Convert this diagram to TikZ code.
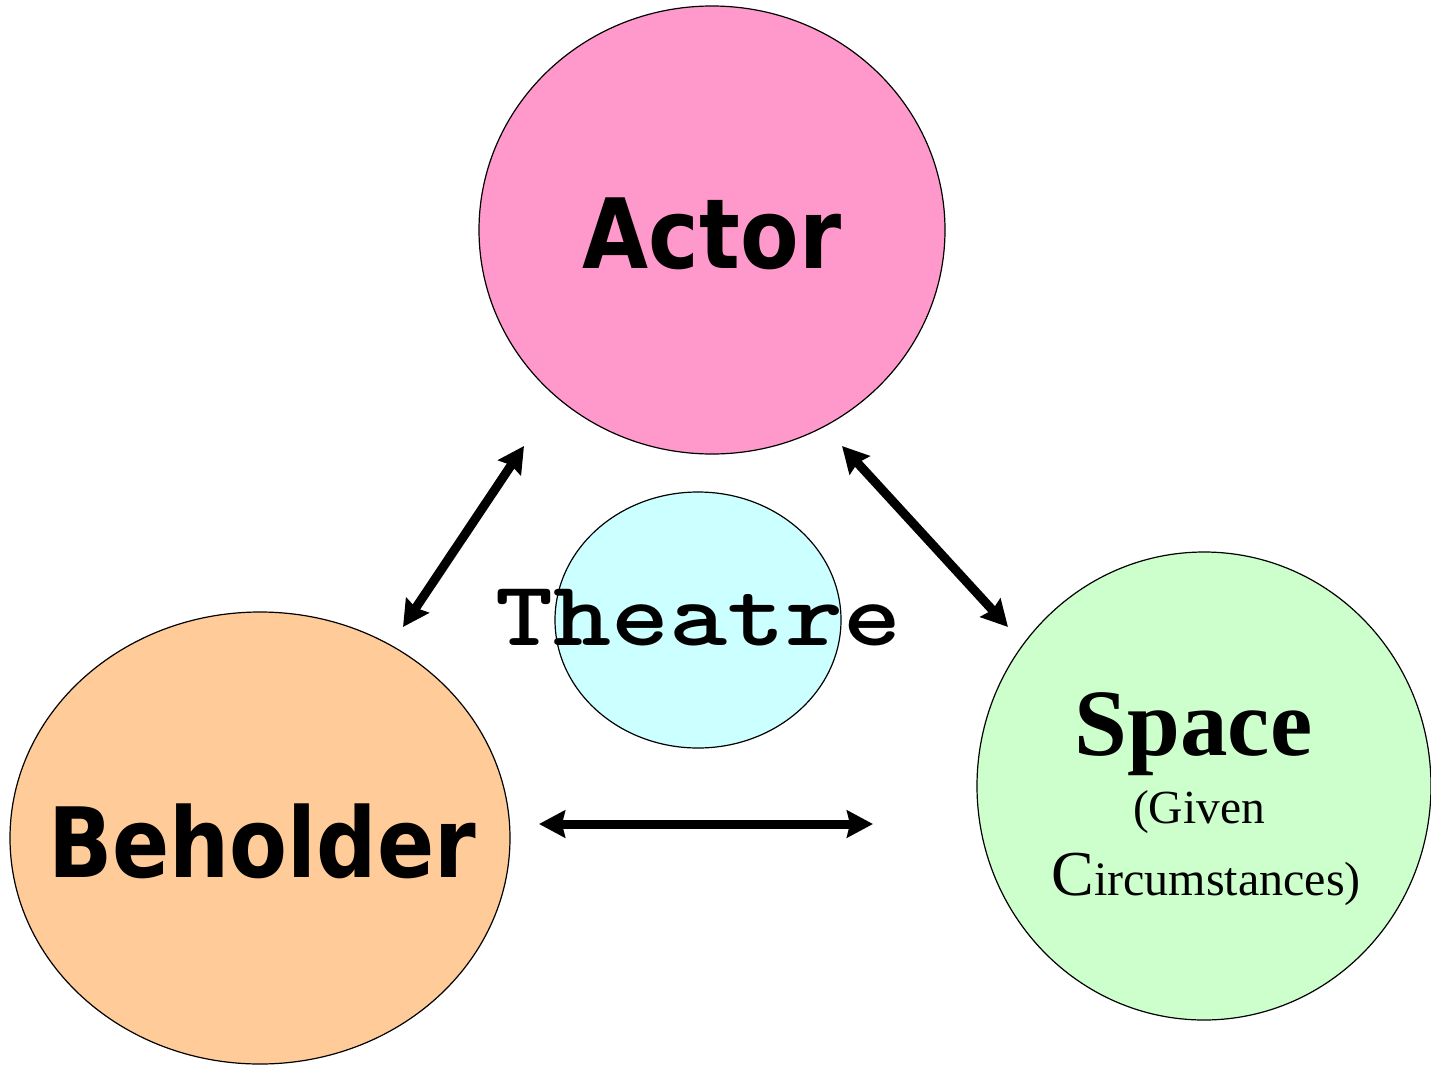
\documentclass[tikz,border=0pt]{standalone}
\usepackage{fontspec}
\usetikzlibrary{shapes.geometric,arrows.meta}
\newfontfamily\headfont{DejaVu Sans}[BoldFont={DejaVu Sans Bold}]
\newfontfamily\timesfont{Liberation Serif}[BoldFont={Liberation Serif Bold}]
\definecolor{actorpink}{HTML}{FF99CC}
\definecolor{theatrecyan}{HTML}{CCFFFF}
\definecolor{beholderorange}{HTML}{FFCC99}
\definecolor{spacegreen}{HTML}{CCFFCC}
\tikzset{
  blob/.style={ellipse, draw=black, line width=1.2pt, inner sep=0pt, outer sep=0pt},
  lbl/.style={inner sep=0pt, outer sep=0pt, anchor=base, text=black},
  link/.style={line width=9pt, {Stealth[length=26pt,width=27pt,inset=3pt]}-{Stealth[length=26pt,width=27pt,inset=3pt]}}
}
\begin{document}
\begin{tikzpicture}[x=1pt,y=-1pt]
\useasboundingbox[fill=white] (0,0) rectangle (1431,1068);
% ellipses
\node[blob, fill=actorpink, minimum width=466pt, minimum height=448pt] (actor) at (712,230) {};
\node[blob, fill=theatrecyan, minimum width=286pt, minimum height=256pt] (theatre) at (698,620) {};
\node[blob, fill=beholderorange, minimum width=500pt, minimum height=452pt] (beholder) at (260,838) {};
\node[blob, fill=spacegreen, minimum width=454pt, minimum height=468pt] (space) at (1204,786) {};
% labels
\node[lbl] (actortext) at (712,268) {\scalebox{0.88}[1]{\headfont\bfseries\fontsize{97}{110}\selectfont Actor}};
\node[lbl] (beholdertext) at (262,877) {\scalebox{0.87}[1]{\headfont\bfseries\fontsize{97}{110}\selectfont Beholder}};
\node[lbl] (theatretext) at (698.5,645) {\scalebox{1.2}[1]{\ttfamily\bfseries\fontsize{92}{100}\selectfont\addfontfeatures{FakeBold=1.5}Theatre}};
\node[lbl] (spacetext) at (1193.5,755) {\timesfont\bfseries\fontsize{95}{100}\selectfont Space};
\node[lbl] (giventext) at (1199,823) {\timesfont\fontsize{47.5}{50}\selectfont (Given};
\node[lbl] (circtext) at (1206,895) {\timesfont\fontsize{48}{50}\selectfont{\fontsize{64}{66}\selectfont C}ircumstances)};
% arrow end points
\coordinate (a1) at (524,446);
\coordinate (b1) at (403,627);
\coordinate (a2) at (842,446);
\coordinate (s2) at (1008,627);
\coordinate (b3) at (539,824);
\coordinate (s3) at (873,824);
\draw[link] (a1) -- (b1);
\draw[link] (a2) -- (s2);
\draw[link] (b3) -- (s3);
\end{tikzpicture}
\end{document}
